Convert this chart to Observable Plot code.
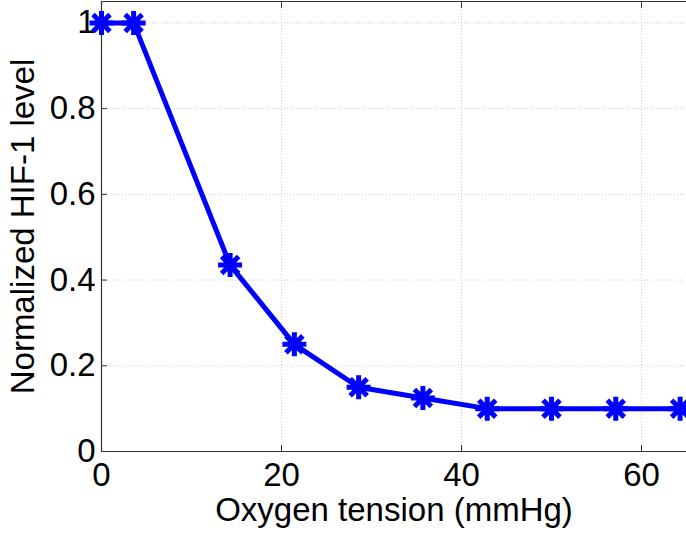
<!DOCTYPE html>
<html>
<head>
<meta charset="utf-8">
<script src="https://cdn.jsdelivr.net/npm/d3@7"></script>
<script src="https://cdn.jsdelivr.net/npm/@observablehq/plot@0.6"></script>
<style>
  html, body { margin: 0; padding: 0; background: #fff; }
  #chart svg { display: block; }
</style>
</head>
<body>
<div id="chart"></div>
<script>
// Data
const oxygen = [0, 3.57, 14.29, 21.43, 28.57, 35.71, 42.86, 50.0, 57.14, 64.29];
const hif1 = [1.0, 1.0, 0.435, 0.25, 0.15, 0.125, 0.1, 0.1, 0.1, 0.1];
const xTicks = [0, 20, 40, 60];
const yTicks = [0, 0.2, 0.4, 0.6, 0.8, 1];
const xLabel = "Oxygen tension (mmHg)";
const yLabel = "Normalized HIF-1 level";

const data = oxygen.map((x, i) => ({x, y: hif1[i]}));

// MATLAB-style 8-armed asterisk
const asterisk8 = {
  draw(context, size) {
    const r = Math.sqrt(size / Math.PI);
    const d = r * Math.SQRT1_2;
    context.moveTo(0, -r); context.lineTo(0, r);
    context.moveTo(-r, 0); context.lineTo(r, 0);
    context.moveTo(-d, -d); context.lineTo(d, d);
    context.moveTo(-d, d); context.lineTo(d, -d);
  }
};

const W = 686, H = 533;
const mL = 101, mT = 1, mB = 82, mR = 0;
const font = "Liberation Sans, Arial, sans-serif";

const plot = Plot.plot({
  width: W,
  height: H,
  marginLeft: mL,
  marginTop: mT,
  marginBottom: mB,
  marginRight: mR,
  style: {fontFamily: font, fontSize: "33px", color: "#000", background: "#fff", overflow: "visible"},
  x: {type: "linear", domain: [0, 65], ticks: xTicks},
  y: {type: "linear", domain: [0, 1.05], ticks: yTicks},
  marks: [
    // grid
    Plot.ruleX(xTicks.filter(d => d > 0), {stroke: "#cfcfcf", strokeWidth: 1, strokeDasharray: "1,2"}),
    Plot.ruleY(yTicks.filter(d => d > 0), {stroke: "#cfcfcf", strokeWidth: 1, strokeDasharray: "1,2"}),
    // axes frame (left, bottom, top)
    Plot.ruleX([0], {stroke: "#333", strokeWidth: 1.2}),
    Plot.ruleY([0], {stroke: "#333", strokeWidth: 1.2}),
    Plot.ruleY([1.05], {stroke: "#333", strokeWidth: 1.2}),
    // axes with labels
    Plot.axisX(xTicks, {
      tickSize: -6, tickPadding: 17, stroke: "#333", fontSize: 33,
      label: xLabel, labelAnchor: "center", labelArrow: "none", labelOffset: 69
    }),
    Plot.axisX(xTicks, {anchor: "top", tickSize: -6, stroke: "#333", tickFormat: () => "", label: null}),
    Plot.axisY(yTicks, {
      tickSize: -6, tickPadding: 12, stroke: "#333", fontSize: 33,
      tickFormat: d => d === 0 ? "0" : d === 1 ? "1" : d3.format(".1f")(d),
      label: yLabel, labelAnchor: "center", labelArrow: "none", labelOffset: 91
    }),
    // data
    Plot.line(data, {x: "x", y: "y", stroke: "#0000ff", strokeWidth: 5}),
    Plot.dot(data, {x: "x", y: "y", symbol: asterisk8, r: 12, stroke: "#0000ff", strokeWidth: 5, fill: "none"})
  ]
});

document.getElementById("chart").appendChild(plot);
</script>
</body>
</html>
